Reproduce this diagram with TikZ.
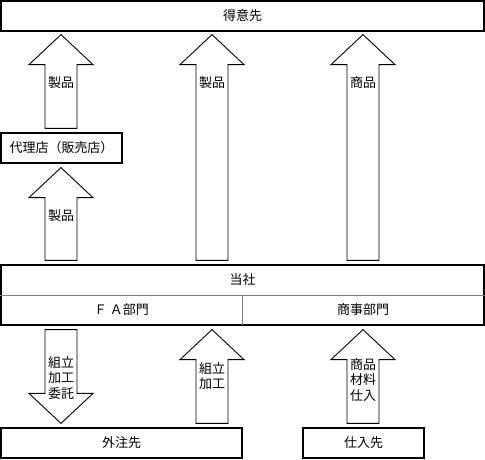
\documentclass[tikz,border=0pt]{standalone}
\usepackage{fontspec}
\newfontfamily\jpfont{Noto Sans CJK JP}
\usetikzlibrary{calc}

\tikzset{
  box/.style={draw, line width=1.2pt, minimum height=30pt, inner sep=0pt, font=\jpfont\fontsize{13}{15}\selectfont},
  cell/.style={minimum height=30pt, inner sep=0pt, font=\jpfont\fontsize{13}{15}\selectfont},
  blockarrow/.style={draw, line width=0.9pt, fill=white, line join=miter},
  arrtext/.style={align=center, inner sep=0pt, font=\jpfont\fontsize{13}{15.5}\selectfont}
}
% block arrow from tail point to tip point
\newcommand\blockarrow[2]{\draw[blockarrow] let \p1=(#1), \p2=(#2), \n1={ifthenelse(\y2>\y1,1,-1)} in
  (\x1-16pt,\y1) -- (\x1-16pt,\y2-\n1*30pt) -- (\x1-32pt,\y2-\n1*30pt) -- (\x2,\y2)
  -- (\x1+32pt,\y2-\n1*30pt) -- (\x1+16pt,\y2-\n1*30pt) -- (\x1+16pt,\y1) -- cycle;}

\begin{document}
\begin{tikzpicture}[x=1pt, y=-1pt]
  \useasboundingbox (0,0) rectangle (485,459);

  %%%%% boxes %%%%%
  \node[box, minimum width=483pt] (tokui) at (242.5,16) {得意先};
  \node[box, minimum width=121pt] (dairi) at (61.5,148) {代理店（販売店）};

  \node[box, minimum width=483pt, minimum height=60pt] (tousha) at (242.5,295) {};
  \node[cell, minimum width=241pt] (fa) at (121.5,310) {Ｆ Ａ部門};
  \node[cell, minimum width=242pt] (shoji) at (363,310) {商事部門};
  \node[cell] at (242.5,280) {当社};
  \draw[gray, line width=0.6pt] (tousha.west) -- (tousha.east);
  \draw[gray, line width=0.6pt] (fa.north east) -- (fa.south east);

  \node[box, minimum width=241pt] (gaichu) at (121.5,443) {外注先};
  \node[box, minimum width=121pt] (shiire) at (363.5,443) {仕入先};

  %%%%% arrows %%%%%
  \coordinate (c1) at (61,0);
  \coordinate (c2) at (212,0);
  \coordinate (c3) at (363,0);

  \blockarrow{$(c1 |- dairi.north)+(0,-4)$}{$(c1 |- tokui.south)+(0,3)$}
  \node[arrtext] at (61,83) {製品};
  \blockarrow{$(c2 |- tousha.north)+(0,-4)$}{$(c2 |- tokui.south)+(0,3)$}
  \node[arrtext] at (212,83) {製品};
  \blockarrow{$(c3 |- tousha.north)+(0,-4)$}{$(c3 |- tokui.south)+(0,3)$}
  \node[arrtext] at (363,83) {商品};

  \blockarrow{$(c1 |- tousha.north)+(0,-4)$}{$(c1 |- dairi.south)+(0,4)$}
  \node[arrtext] at (61,216) {製品};

  \blockarrow{$(c1 |- tousha.south)+(0,4)$}{$(c1 |- gaichu.north)+(0,-4)$}
  \node[arrtext] at (61,378) {組立\\加工\\委託};
  \blockarrow{$(c2 |- gaichu.north)+(0,-4)$}{$(c2 |- tousha.south)+(0,4)$}
  \node[arrtext] at (212,376) {組立\\加工};
  \blockarrow{$(c3 |- shiire.north)+(0,-4)$}{$(c3 |- tousha.south)+(0,4)$}
  \node[arrtext] at (363,380) {商品\\材料\\仕入};
\end{tikzpicture}
\end{document}
